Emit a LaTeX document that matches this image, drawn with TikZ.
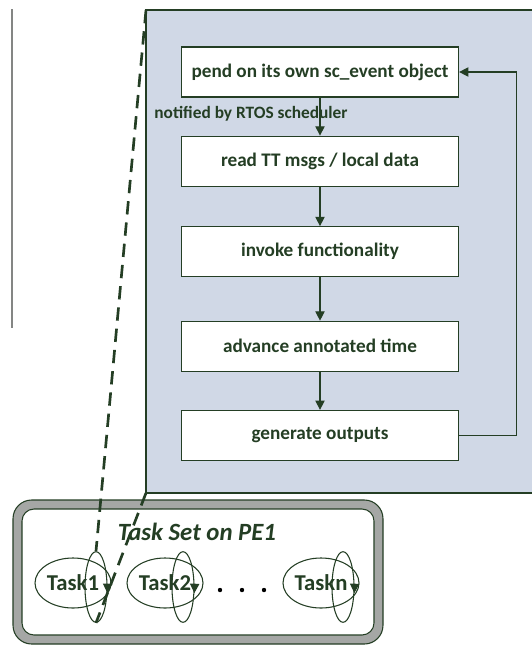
\documentclass[tikz,border=0pt]{standalone}
\usepackage{fontspec}
\setmainfont{Carlito}
\usetikzlibrary{shapes,arrows.meta,positioning,calc}
\definecolor{dkgreen}{RGB}{36,62,36}
\definecolor{panelblue}{RGB}{208,216,230}
\definecolor{rimgray}{RGB}{165,167,165}

\begin{document}
\begin{tikzpicture}[x=0.75pt,y=-0.75pt,
    stepbox/.style={draw=dkgreen, line width=0.9pt, fill=white, text=dkgreen,
        minimum width=207.75pt, minimum height=37.5pt,
        font=\bfseries\fontsize{14.4}{16}\selectfont},
    flow/.style={draw=dkgreen, line width=0.9pt, -{Triangle[length=7pt,width=7pt]}},
    task/.style={ellipse, draw=dkgreen, line width=0.8pt, text=dkgreen,
        minimum width=57pt, minimum height=37.5pt, inner sep=0pt,
        font=\bfseries\fontsize{17}{19}\selectfont},
    loopell/.style={ellipse, draw=dkgreen, line width=0.8pt,
        minimum width=16.5pt, minimum height=53pt, inner sep=0pt},
    link/.style={draw=dkgreen, line width=2pt, dash pattern=on 10pt off 6pt}]
    \useasboundingbox (0,0) rectangle (532,647);

    % panel holding the task body
    \fill[panelblue] (146,10) rectangle (532,493);
    \draw[dkgreen, line width=0.9pt] (532,10) -- (146,10) -- (146,493) -- (532,493);
    \coordinate (paneltop) at (146,10);
    \coordinate (panelbot) at (146,493);
    \draw[rimgray!80!black, line width=1.2pt] (12,9) -- (12,328);

    % steps of one task
    \node[stepbox] (pend) at (320,72) {pend on its own sc\_event object};
    \node[stepbox, below=28.5pt of pend] (read) {read TT msgs / local data};
    \node[stepbox, below=29.5pt of read] (invoke) {invoke functionality};
    \node[stepbox, below=32.5pt of invoke] (advance) {advance annotated time};
    \node[stepbox, below=28.5pt of advance] (generate) {generate outputs};
    \node[text=dkgreen, font=\bfseries\fontsize{13}{15}\selectfont] (notified) at (251,114) {notified by RTOS scheduler};

    \draw[flow] (pend) -- (read);
    \draw[flow] (read) -- (invoke);
    \draw[flow] (invoke) -- (advance);
    \draw[flow] (advance) -- (generate);
    \draw[flow] (generate.east) -- ++(57,0) |- (pend.east);

    % task set frame
    \draw[dkgreen, fill=rimgray, line width=0.8pt, rounded corners=14pt] (13,500) rectangle (383,644);
    \draw[dkgreen, fill=white, line width=0.8pt, rounded corners=9pt] (22,509) rectangle (374,635);
    \node[text=dkgreen, font=\bfseries\itshape\fontsize{18.6}{21}\selectfont] (setlabel) at (197,532) {Task Set on PE1};

    \node[task] (task1) at (73,583) {Task1};
    \node[task] (task2) at (165,583) {Task2};
    \node[task] (taskn) at (321,583) {Taskn};
    \node[loopell] (loop1) at (96,587) {};
    \node[loopell] (loop2) at (183,587) {};
    \node[loopell] (loopn) at (343,587) {};
    \foreach \l in {loop1,loop2,loopn}
        \draw[draw=dkgreen, line width=0.8pt, -{Triangle[length=7pt,width=7pt]}] (\l.-5) -- (\l.-28);
    \foreach \x in {220,242,264}
        \fill[black] (\x,590) circle (2.2);

    \draw[link] (paneltop) -- (loop1.north);
    \draw[link] (panelbot) -- (loop1.south);
\end{tikzpicture}
\end{document}
